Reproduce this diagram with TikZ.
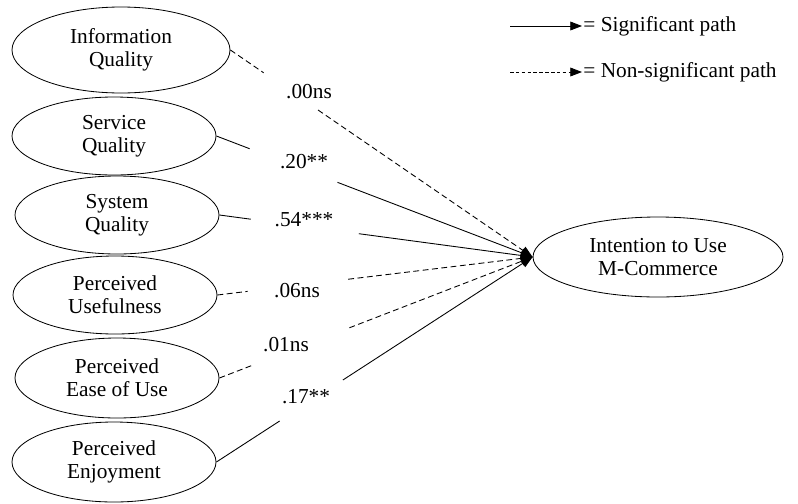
\documentclass[tikz,border=0pt]{standalone}
\usepackage{fontspec}
\setmainfont{Liberation Serif}
\usetikzlibrary{shapes.geometric,arrows.meta,calc}
\tikzset{
  construct/.style={draw,ellipse,line width=0.7pt,align=center,
    minimum width=6.12cm,minimum height=2.34cm,inner sep=0pt},
  coef/.style={inner sep=1pt},
  sigpath/.style={line width=0.75pt},
  nspath/.style={line width=0.75pt,dash pattern=on 5pt off 3pt},
  tip/.style={-{Triangle[length=10pt,width=7.5pt]}}
}
\begin{document}
\begin{tikzpicture}[font=\fontsize{18.2}{19.5}\selectfont]
      \useasboundingbox (0,0) rectangle (23.94,-15.09);
      \draw
        (3.63,-1.5) node[construct,minimum width=6.54cm,minimum height=2.58cm] (iq){Information\\Quality}
        (3.42,-4.08) node[construct] (sq){Service\\Quality}
        (3.51,-6.45) node[construct] (syq){System\\Quality}
        (3.45,-8.85) node[construct] (pu){Perceived\\Usefulness}
        (3.51,-11.34) node[construct,minimum height=2.4cm] (peou){Perceived\\Ease of Use}
        (3.42,-13.86) node[construct,minimum height=2.4cm] (pe){Perceived\\Enjoyment}
        (19.74,-7.71) node[construct,minimum width=7.5cm,minimum height=2.4cm] (iu){Intention to Use\\M-Commerce};
      % path coefficients
      \node[coef] (c1) at (9.27,-2.76) {.00ns};
      \node[coef] (c2) at (9.12,-4.86) {.20**};
      \node[coef] (c3) at (9.12,-6.6) {.54***};
      \node[coef] (c4) at (8.91,-8.73) {.06ns};
      \node[coef] (c5) at (8.58,-10.35) {.01ns};
      \node[coef] (c6) at (9.18,-11.91) {.17**};
      \begin{scope}
        \draw[nspath] (iq.east) -- ($(iq.east)!0.11!(iu.west)$);
        \draw[nspath,tip] ($(iq.east)!0.29!(iu.west)$) -- (iu.west);
        \draw[sigpath] (sq.east) -- ($(sq.east)!0.105!(iu.west)$);
        \draw[sigpath,tip] ($(sq.east)!0.383!(iu.west)$) -- (iu.west);
        \draw[sigpath] (syq.east) -- ($(syq.east)!0.1!(iu.west)$);
        \draw[sigpath,tip] ($(syq.east)!0.445!(iu.west)$) -- (iu.west);
        \draw[nspath] (pu.east) -- ($(pu.east)!0.096!(iu.west)$);
        \draw[nspath,tip] ($(pu.east)!0.415!(iu.west)$) -- (iu.west);
        \draw[nspath] (peou.east) -- ($(peou.east)!0.105!(iu.west)$);
        \draw[nspath,tip] ($(peou.east)!0.415!(iu.west)$) -- (iu.west);
        \draw[sigpath] (pe.east) -- ($(pe.east)!0.2!(iu.west)$);
        \draw[sigpath,tip] ($(pe.east)!0.4!(iu.west)$) -- (iu.west);
      \end{scope}
      % legend
      \coordinate (sigstart) at (15.3,-0.78);
      \node[anchor=west,inner sep=1pt] (sigtext) at (17.46,-0.78) {= Significant path};
      \draw[sigpath,tip] (sigstart) -- (sigtext.west);
      \coordinate (nsstart) at (15.3,-2.16);
      \node[anchor=west,inner sep=1pt] (nstext) at (17.46,-2.16) {= Non-significant path};
      \draw[nspath,dash pattern=on 3pt off 2pt,tip] (nsstart) -- (nstext.west);
    \end{tikzpicture}
\end{document}
